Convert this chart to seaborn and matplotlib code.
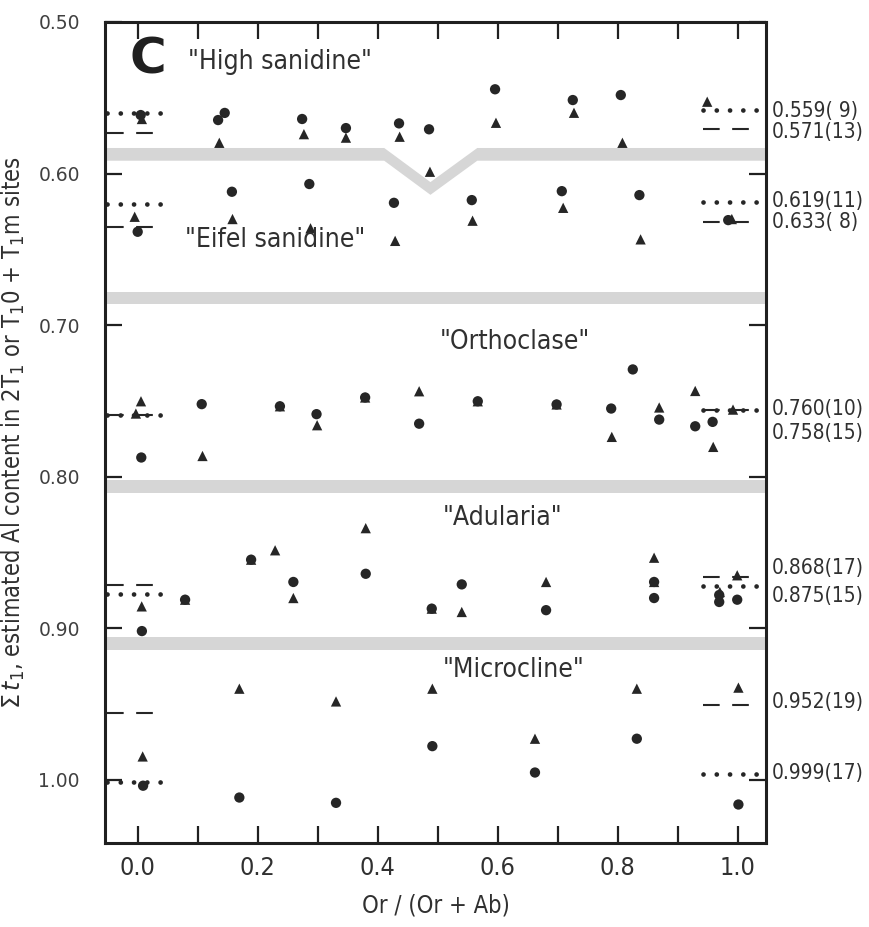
import numpy as np
import pandas as pd
import matplotlib
matplotlib.use("Agg")
import matplotlib.pyplot as plt
from matplotlib import font_manager
import seaborn as sns

# ---------------- data ----------------
circle_x = [0.005, 0.134, 0.145, 0.274, 0.347, 0.4355, 0.4855, 0.5955, 0.725, 0.805,
            0.000, 0.157, 0.286, 0.427, 0.5567, 0.7067, 0.836, 0.984,
            0.006, 0.1067, 0.237, 0.298, 0.379, 0.469, 0.5667, 0.698, 0.825, 0.789, 0.869, 0.929, 0.958,
            0.007, 0.079, 0.189, 0.2594, 0.380, 0.490, 0.540, 0.6805, 0.8605, 0.8605, 0.969, 0.969, 0.999,
            0.009, 0.1694, 0.3305, 0.491, 0.662, 0.8317, 1.001]
circle_y = [0.5614, 0.5647, 0.5600, 0.5640, 0.5700, 0.5669, 0.5708, 0.5444, 0.5515, 0.5482,
            0.6384, 0.6120, 0.6069, 0.6193, 0.6175, 0.6116, 0.6142, 0.6307,
            0.7873, 0.7521, 0.7535, 0.7587, 0.7477, 0.7650, 0.7502, 0.7523, 0.7292, 0.7550, 0.7623, 0.7667, 0.7638,
            0.9018, 0.8811, 0.8547, 0.8694, 0.8640, 0.8870, 0.8710, 0.8880, 0.8694, 0.8800, 0.8780, 0.8826, 0.8811,
            1.0038, 1.0116, 1.0151, 0.9777, 0.9951, 0.9728, 1.0162]

triangle_x = [0.007, 0.136, 0.277, 0.347, 0.4365, 0.487, 0.597, 0.727, 0.8077, 0.949,
              -0.005, 0.158, 0.288, 0.429, 0.558, 0.709, 0.838, 0.990,
              0.0055, 0.108, 0.237, 0.299, 0.379, 0.469, 0.5667, 0.698, 0.790, 0.869, 0.929, 0.959, 0.992, -0.003,
              0.0067, 0.079, 0.189, 0.229, 0.2594, 0.380, 0.490, 0.540, 0.6805, 0.8605, 0.8605, 0.999, 0.970,
              0.0083, 0.1694, 0.3305, 0.491, 0.662, 0.8317, 1.001]
triangle_y = [0.5640, 0.5797, 0.5740, 0.5763, 0.5757, 0.5988, 0.5665, 0.5599, 0.5797, 0.5526,
              0.6285, 0.6300, 0.6361, 0.6444, 0.6311, 0.6226, 0.6434, 0.6300,
              0.7502, 0.7863, 0.7535, 0.7660, 0.7477, 0.7436, 0.7502, 0.7523, 0.7737, 0.7543, 0.7434, 0.7803, 0.7557, 0.7583,
              0.8855, 0.8811, 0.8547, 0.8485, 0.8800, 0.8339, 0.8870, 0.8892, 0.8694, 0.8534, 0.8694, 0.8650, 0.8760,
              0.9845, 0.9398, 0.9482, 0.9398, 0.9728, 0.9398, 0.9391]

# mean-value reference lines (left = Or-poor end, right = Or-rich end)
left_dotted_y = [0.5599, 0.6203, 0.7590, 0.8771, 1.0015]
left_dashed_y = [0.5730, 0.6351, 0.7590, 0.8716, 0.9557]
right_dotted_y = [0.5581, 0.6186, 0.7557, 0.8723, 0.9959]
right_dashed_y = [0.5708, 0.6322, 0.7557, 0.8661, 0.9508]

right_labels = ["0.559( 9)", "0.571(13)", "0.619(11)", "0.633( 8)", "0.760(10)",
                "0.758(15)", "0.868(17)", "0.875(15)", "0.952(19)", "0.999(17)"]
right_label_y = [0.5588, 0.5723, 0.6182, 0.6318, 0.7555, 0.7710, 0.8600, 0.8785, 0.9488, 0.9957]

field_names = ['"High sanidine"', '"Eifel sanidine"', '"Orthoclase"', '"Adularia"', '"Microcline"']
field_x = [0.084, 0.079, 0.504, 0.509, 0.509]
field_y = [0.5264, 0.6439, 0.7112, 0.8274, 0.9277]

# gray boundary bands between fields
band_y = [0.6820, 0.8065, 0.9098]
band1_x = [-0.06, 0.41, 0.487, 0.565, 1.06]
band1_y = [0.587, 0.587, 0.6095, 0.587, 0.587]

x_ticks = [0.0, 0.2, 0.4, 0.6, 0.8, 1.0]
y_ticks = [0.50, 0.60, 0.70, 0.80, 0.90, 1.00]

# ---------------- plot ----------------
sns.set_theme(style="white")
plt.rcParams['font.family'] = ['DejaVu Sans']

installed = {f.name for f in font_manager.fontManager.ttflist}
if 'Liberation Sans Narrow' in installed:
    COND = dict(family=['Liberation Sans Narrow', 'DejaVu Sans'])
    narrow = True
else:
    COND = dict(family='DejaVu Sans', stretch='condensed')
    narrow = False
lab_size = 17 if narrow else 15

fig = plt.figure(figsize=(8.69, 9.27), dpi=100)
ax = fig.add_axes([0.1208, 0.0906, 0.8815 - 0.1208, 0.9763 - 0.0906])

xmin, xmax = -0.0545, 1.047
ax.set_xlim(xmin, xmax)
ax.set_ylim(1.0416, 0.50)

band_col = '#d6d6d6'
hw = 0.0042
b1 = np.array(band1_y)
ax.fill_between(band1_x, b1 - hw, b1 + hw, color=band_col, lw=0, zorder=1)
for by in band_y:
    ax.fill_between([xmin, xmax], [by - hw] * 2, [by + hw] * 2, color=band_col, lw=0, zorder=1)

dark = '#262626'
for y in left_dotted_y:
    ax.plot([-0.051, 0.04], [y, y], color=dark, lw=3.4, ls=(0, (0.01, 2.8)),
            dash_capstyle='round', solid_capstyle='round', zorder=2)
for y in right_dotted_y:
    ax.plot([0.942, 1.032], [y, y], color=dark, lw=3.4, ls=(0, (0.01, 2.8)),
            dash_capstyle='round', solid_capstyle='round', zorder=2)
for y in left_dashed_y:
    ax.plot([-0.051, 0.04], [y, y], color=dark, lw=1.5, ls=(0, (8, 6)), zorder=2)
for y in right_dashed_y:
    ax.plot([0.942, 1.032], [y, y], color=dark, lw=1.5, ls=(0, (8, 6)), zorder=2)

df = pd.concat([
    pd.DataFrame({'x': circle_x, 'y': circle_y, 'kind': 'circle'}),
    pd.DataFrame({'x': triangle_x, 'y': triangle_y, 'kind': 'triangle'}),
], ignore_index=True)
sns.scatterplot(data=df, x='x', y='y', style='kind',
                markers={'circle': 'o', 'triangle': '^'},
                color=dark, s=55, edgecolor='none', linewidth=0,
                legend=False, ax=ax, zorder=3)

ax.text(0.017, 0.525, 'C', fontsize=36, fontweight='heavy', color='#202020',
        ha='center', va='center')
for name, fx, fy in zip(field_names, field_x, field_y):
    ax.text(fx, fy, name, fontsize=19, color='#303030', ha='left', va='center', **COND)

for lab, ly in zip(right_labels, right_label_y):
    ax.text(1.057, ly, lab, fontsize=lab_size, color='#303030', ha='left', va='center',
            clip_on=False, **COND)

ax.set_xticks(np.arange(0, 1.01, 0.1))
ax.set_xticklabels([f'{v:.1f}' if round(v * 10) % 2 == 0 else '' for v in np.arange(0, 1.01, 0.1)],
                   fontsize=18, color='#303030', **COND)
ax.set_yticks(y_ticks)
ax.set_yticklabels([f'{v:.2f}' for v in y_ticks], fontsize=13.5, color='#404040')
ax.tick_params(axis='x', direction='in', length=12, width=1.6, top=True, bottom=True,
               pad=9, color='#202020')
ax.tick_params(axis='y', direction='in', length=12, width=1.6, left=True, right=True,
               pad=18, color='#202020')

for sp in ax.spines.values():
    sp.set_linewidth(2.2)
    sp.set_color('#202020')

ax.set_xlabel('Or / (Or + Ab)', fontsize=17, color='#303030', labelpad=10, **COND)
ax.set_ylabel(r'$\Sigma\, t_1$, estimated Al content in 2T$_1$ or T$_1$0 + T$_1$m sites',
              fontsize=17, color='#303030', labelpad=8, **COND)

fig.savefig('out.png', dpi=100)
